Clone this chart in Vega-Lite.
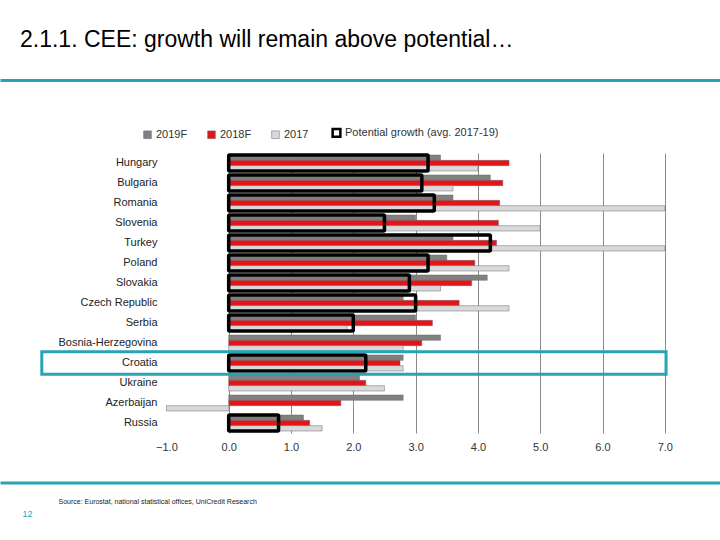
{
  "$schema": "https://vega.github.io/schema/vega-lite/v6.json",
  "width": 720,
  "height": 280,
  "autosize": {"type": "none"},
  "padding": {"left": 0, "right": 0, "top": 153, "bottom": 107},
  "background": "white",
  "config": {"view": {"stroke": null}, "font": "Liberation Sans"},
  "title": {
    "text": "2.1.1. CEE: growth will remain above potential…",
    "anchor": "start",
    "frame": "group",
    "dx": 20,
    "offset": 28,
    "fontSize": 23,
    "fontWeight": "normal",
    "color": "#000000"
  },
  "datasets": {
    "growth": [
      {"country": "Hungary", "series": "2019F", "value": 3.4},
      {"country": "Hungary", "series": "2018F", "value": 4.5},
      {"country": "Hungary", "series": "2017", "value": 4.0},
      {"country": "Bulgaria", "series": "2019F", "value": 4.2},
      {"country": "Bulgaria", "series": "2018F", "value": 4.4},
      {"country": "Bulgaria", "series": "2017", "value": 3.6},
      {"country": "Romania", "series": "2019F", "value": 3.6},
      {"country": "Romania", "series": "2018F", "value": 4.35},
      {"country": "Romania", "series": "2017", "value": 7.0},
      {"country": "Slovenia", "series": "2019F", "value": 3.0},
      {"country": "Slovenia", "series": "2018F", "value": 4.33},
      {"country": "Slovenia", "series": "2017", "value": 5.0},
      {"country": "Turkey", "series": "2019F", "value": 3.6},
      {"country": "Turkey", "series": "2018F", "value": 4.3},
      {"country": "Turkey", "series": "2017", "value": 7.0},
      {"country": "Poland", "series": "2019F", "value": 3.5},
      {"country": "Poland", "series": "2018F", "value": 3.95},
      {"country": "Poland", "series": "2017", "value": 4.5},
      {"country": "Slovakia", "series": "2019F", "value": 4.15},
      {"country": "Slovakia", "series": "2018F", "value": 3.9},
      {"country": "Slovakia", "series": "2017", "value": 3.4},
      {"country": "Czech Republic", "series": "2019F", "value": 2.8},
      {"country": "Czech Republic", "series": "2018F", "value": 3.7},
      {"country": "Czech Republic", "series": "2017", "value": 4.5},
      {"country": "Serbia", "series": "2019F", "value": 3.0},
      {"country": "Serbia", "series": "2018F", "value": 3.27},
      {"country": "Serbia", "series": "2017", "value": 1.9},
      {"country": "Bosnia-Herzegovina", "series": "2019F", "value": 3.4},
      {"country": "Bosnia-Herzegovina", "series": "2018F", "value": 3.1},
      {"country": "Bosnia-Herzegovina", "series": "2017", "value": 2.8},
      {"country": "Croatia", "series": "2019F", "value": 2.8},
      {"country": "Croatia", "series": "2018F", "value": 2.75},
      {"country": "Croatia", "series": "2017", "value": 2.8},
      {"country": "Ukraine", "series": "2019F", "value": 2.1},
      {"country": "Ukraine", "series": "2018F", "value": 2.2},
      {"country": "Ukraine", "series": "2017", "value": 2.5},
      {"country": "Azerbaijan", "series": "2019F", "value": 2.8},
      {"country": "Azerbaijan", "series": "2018F", "value": 1.8},
      {"country": "Azerbaijan", "series": "2017", "value": -1.0},
      {"country": "Russia", "series": "2019F", "value": 1.2},
      {"country": "Russia", "series": "2018F", "value": 1.3},
      {"country": "Russia", "series": "2017", "value": 1.5}
    ],
    "potential": [
      {"country": "Hungary", "series": "Potential growth (avg. 2017-19)", "value": 3.2},
      {"country": "Bulgaria", "series": "Potential growth (avg. 2017-19)", "value": 3.1},
      {"country": "Romania", "series": "Potential growth (avg. 2017-19)", "value": 3.3},
      {"country": "Slovenia", "series": "Potential growth (avg. 2017-19)", "value": 2.5},
      {"country": "Turkey", "series": "Potential growth (avg. 2017-19)", "value": 4.2},
      {"country": "Poland", "series": "Potential growth (avg. 2017-19)", "value": 3.2},
      {"country": "Slovakia", "series": "Potential growth (avg. 2017-19)", "value": 2.9},
      {"country": "Czech Republic", "series": "Potential growth (avg. 2017-19)", "value": 3.0},
      {"country": "Serbia", "series": "Potential growth (avg. 2017-19)", "value": 2.0},
      {"country": "Croatia", "series": "Potential growth (avg. 2017-19)", "value": 2.2},
      {"country": "Russia", "series": "Potential growth (avg. 2017-19)", "value": 0.8}
    ],
    "highlight": [
      {"country": "Croatia", "from": -3.0, "to": 7.02}
    ]
  },
  "layer": [
    {
      "data": {"name": "growth"},
      "mark": {"type": "bar", "stroke": "#6b6b6b", "strokeWidth": 0.5},
      "encoding": {
        "y": {
          "field": "country",
          "type": "nominal",
          "sort": null,
          "scale": {
            "domain": ["Hungary", "Bulgaria", "Romania", "Slovenia", "Turkey", "Poland", "Slovakia", "Czech Republic", "Serbia", "Bosnia-Herzegovina", "Croatia", "Ukraine", "Azerbaijan", "Russia"],
            "paddingInner": 0.2,
            "paddingOuter": 0.1
          },
          "axis": {
            "orient": "left",
            "offset": -157,
            "domain": false,
            "ticks": false,
            "labelPadding": 0,
            "labelFontSize": 11,
            "labelColor": "#222222",
            "title": "12",
            "titleAngle": 0,
            "titleX": -135,
            "titleY": 360,
            "titleAlign": "left",
            "titleBaseline": "middle",
            "titleFontSize": 9,
            "titleFontWeight": "normal",
            "titleColor": "#29a3b4"
          }
        },
        "x": {
          "field": "value",
          "type": "quantitative",
          "scale": {"domain": [-3.671, 7.886], "nice": false, "zero": false},
          "axis": {
            "orient": "bottom",
            "values": [-1, 0, 1, 2, 3, 4, 5, 6, 7],
            "format": ".1f",
            "grid": false,
            "domain": false,
            "ticks": false,
            "labelPadding": 8,
            "labelFontSize": 11,
            "labelColor": "#333333",
            "title": null
          }
        },
        "x2": {"datum": 0},
        "yOffset": {
          "field": "series",
          "type": "nominal",
          "sort": ["2019F", "2018F", "2017"],
          "scale": {"paddingInner": 0, "paddingOuter": 0}
        },
        "color": {
          "field": "series",
          "type": "nominal",
          "scale": {
            "domain": ["2019F", "2018F", "2017", "Potential growth (avg. 2017-19)"],
            "range": ["#808080", "#e2151b", "#d9d9d9", "#ffffff"]
          },
          "legend": {
            "title": null,
            "orient": "none",
            "legendX": 142,
            "legendY": -26,
            "direction": "horizontal",
            "symbolType": "square",
            "symbolSize": 60,
            "symbolStrokeColor": "#000000",
            "symbolStrokeWidth": 1,
            "labelFontSize": 11,
            "labelColor": "#333333",
            "labelOffset": 3,
            "columnPadding": 18,
            "encode": {
              "symbols": {
                "update": {
                  "stroke": {"signal": "datum.value === 'Potential growth (avg. 2017-19)' ? '#000000' : '#666666'"},
                  "strokeWidth": {"signal": "datum.value === 'Potential growth (avg. 2017-19)' ? 2.5 : 0.5"}
                }
              }
            }
          }
        }
      }
    },
    {
      "data": {"name": "potential"},
      "mark": {"type": "bar", "fillOpacity": 0, "stroke": "#000000", "strokeWidth": 3.5, "cornerRadius": 1},
      "encoding": {
        "y": {"field": "country", "type": "nominal", "sort": null},
        "x": {
          "field": "value",
          "type": "quantitative",
          "axis": {
            "orient": "top",
            "offset": 73,
            "values": [0, 1, 2, 3, 4, 5, 6, 7],
            "grid": true,
            "gridColor": "#8a8a8a",
            "gridWidth": 1,
            "gridOpacity": 1,
            "labels": false,
            "ticks": false,
            "domain": true,
            "domainColor": "#29a3b4",
            "domainWidth": 3,
            "title": null
          }
        },
        "x2": {"datum": 0},
        "color": {"field": "series", "type": "nominal"}
      }
    },
    {
      "data": {"name": "highlight"},
      "mark": {"type": "bar", "fillOpacity": 0, "stroke": "#29a3b4", "strokeWidth": 3, "height": {"band": 1.4}},
      "encoding": {
        "y": {"field": "country", "type": "nominal", "sort": null},
        "x": {
          "field": "from",
          "type": "quantitative",
          "axis": {
            "orient": "bottom",
            "offset": 49.5,
            "labels": false,
            "ticks": false,
            "grid": false,
            "domain": true,
            "domainColor": "#29a3b4",
            "domainWidth": 3,
            "title": "Source: Eurostat, national statistical offices, UniCredit Research",
            "titleX": 58,
            "titleY": 18.5,
            "titleAlign": "left",
            "titleBaseline": "middle",
            "titleFontSize": 7,
            "titleFontWeight": "normal",
            "titleColor": "#222222"
          }
        },
        "x2": {"field": "to"}
      }
    }
  ],
  "resolve": {"axis": {"x": "independent"}}
}
